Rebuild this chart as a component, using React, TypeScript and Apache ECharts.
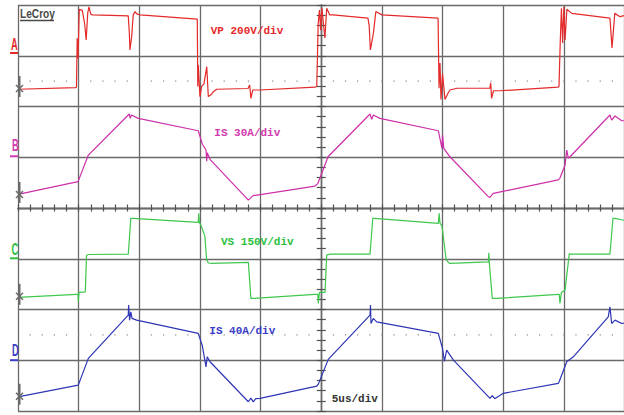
import React, { useEffect, useRef } from "react";
import * as echarts from "echarts";

// ---------- data (time in µs, values in channel units) ----------
const timeRange = [0, 50]; // 5 µs/div x 10 div
const timebaseLabel = "5us/div";
const brandLabel = "LeCroy";

const channelNames = ["A", "B", "C", "D"];
const channelLabels = ["VP 200V/div", "IS 30A/div", "VS 150V/div", "IS 40A/div"];
const channelScales = [200, 30, 150, 40]; // units per division
const channelGround = [0.345, 0.256, 0.25, 0.28]; // ground level, divisions above channel bottom

// Channel A: primary voltage VP (V)
const vpTrace: [number, number][] = [
  [0, -1], [4.75, 5], [4.82, 8], [4.88, 200], [4.95, 120], [5.05, 314], [5.3, 310], [5.5, 255],
  [5.62, 193], [5.75, 300], [5.85, 324], [6.0, 295], [6.15, 292], [9.09, 288], [9.18, 219],
  [9.23, 154], [9.37, 206], [9.5, 292], [9.65, 305], [9.79, 296], [10.06, 292], [14.78, 275],
  [14.82, 10], [14.86, 95], [15.0, -30], [15.14, 10], [15.33, 20], [15.56, 88], [15.69, -30],
  [15.89, -24], [16.1, -11], [16.38, -1], [18.96, 2], [19.1, 16], [19.2, -37], [19.35, -4],
  [19.95, -4], [24.48, 7], [24.63, 10], [24.75, 260], [24.85, 311], [24.95, 232], [25.05, 320],
  [25.3, 201], [25.45, 318], [25.7, 292], [25.97, 292], [28.85, 279], [28.95, 250], [29.05, 154],
  [29.3, 220], [29.5, 305], [30.0, 292], [34.63, 279], [34.71, 3], [34.79, 102], [34.87, -41],
  [35.0, 60], [35.2, -41], [35.45, -17], [35.61, -4], [36.2, 3], [38.9, 3], [38.97, 24],
  [39.04, -37], [39.2, -7], [39.74, -7], [44.52, 7], [44.6, 10], [44.7, 181], [44.8, 318],
  [44.9, 181], [45.0, 324], [45.1, 193], [45.25, 314], [45.65, 298], [48.8, 279], [48.86, 240],
  [48.97, 162], [49.2, 298], [49.63, 285], [50, 290],
];

// Channel B: primary current IS (A)
const isPrimaryTrace: [number, number][] = [
  [0, 0.4], [4.95, 7.9], [5.8, 23.6], [9.09, 47.3], [9.17, 47.9], [9.25, 45.3], [9.35, 47.3],
  [9.92, 45.3], [14.86, 38], [15.2, 30], [15.5, 26.6], [15.56, 20], [15.6, 25], [15.83, 21.1],
  [18.99, -3], [19.37, -0.4], [24.48, 5.3], [24.73, 6.9], [25.56, 22.6], [29.02, 47.9],
  [29.16, 44.7], [29.29, 47.3], [29.84, 45.3], [34.65, 38], [34.95, 27.6], [35.0, 35.5],
  [35.1, 27.6], [35.61, 22.6], [38.77, -1], [38.9, -1.4], [39.18, 1], [44.54, 8.9], [44.68, 10],
  [45.1, 17.7], [45.24, 26.6], [45.37, 21.7], [45.51, 22.6], [48.8, 47.3], [48.94, 44.3],
  [49.22, 46.7], [49.77, 43.9], [50, 43.9],
];

// Channel C: secondary voltage VS (V)
const vsTrace: [number, number][] = [
  [0, -1.8], [4.84, 7.1], [4.95, 7.1], [4.97, -14.8], [5.03, 13], [5.55, 14.8], [5.65, 123],
  [5.8, 125], [9.09, 126], [9.3, 232], [9.5, 232], [14.86, 220], [14.9, 247], [14.95, 220],
  [15.1, 210], [15.4, 180], [15.55, 110], [15.7, 100], [15.97, 98.7], [18.99, 101.7], [19.2, -4.7],
  [19.4, -4.7], [24.48, 7.1], [24.72, 7.1], [24.76, -19.5], [24.85, 13], [25.31, 13], [25.45, 123],
  [25.72, 126], [29.02, 126], [29.25, 232], [29.43, 232], [34.65, 217], [34.72, 247], [34.79, 217],
  [34.95, 210], [35.3, 110], [35.48, 101.7], [35.61, 98.7], [38.77, 103], [38.82, 130],
  [38.85, 103], [39.1, -4.7], [39.46, -4.7], [44.54, 7.1], [44.62, 7.1], [44.68, -19.5],
  [44.8, 13], [45.1, 19.8], [45.45, 128], [45.51, 126], [48.8, 126], [49.05, 232], [49.22, 232],
  [50, 226],
];

// Channel D: secondary current IS (A)
const isSecondaryTrace: [number, number][] = [
  [0, 0], [4.97, 9.2], [5.8, 30.3], [9.09, 64.4], [9.12, 72.3], [9.2, 60.4], [9.3, 67], [9.4, 61.8],
  [9.78, 60.4], [14.86, 50], [15.2, 40], [15.5, 23.6], [15.6, 31.5], [15.83, 27.6], [18.99, -3.9],
  [19.2, -1], [19.4, -4], [19.6, -1.5], [19.95, -1.3], [24.63, 8.4], [24.76, 10], [25.58, 29.5],
  [29.02, 64.4], [29.06, 72.3], [29.1, 57.8], [29.29, 61.8], [29.57, 59.1], [34.65, 50],
  [35.0, 38], [35.15, 28], [35.34, 36.8], [35.9, 28.9], [38.91, -1.3], [39.1, 1], [39.3, -1.5],
  [40.01, 2.7], [44.54, 10.6], [44.62, 12], [45.24, 27.6], [45.78, 31.5], [48.66, 63],
  [48.8, 70.9], [48.94, 57.8], [49.22, 60.4], [49.77, 57.8], [50, 58],
];

const traces = [vpTrace, isPrimaryTrace, vsTrace, isSecondaryTrace];

// ---------- styling / layout ----------
const W = 624;
const H = 415;
const GRID_LEFT = 18;
const GRID_TOP = 5;
const DIV_W = 60.65;
const DIV_H = 50.75;
const CH_H = 2 * DIV_H;
const GRID_COLOR = "#6a6a6a";
const TICK_COLOR = "#505050";
const traceColors = ["#e42a2a", "#cd2fa9", "#3ec84e", "#2f35b5"];
const textColors = ["#e42a2a", "#d23aae", "#2dbf40", "#3a3cc6"];
const letterPos = [
  [11, 44.2, 53],
  [12, 145.8, 156.3],
  [11.5, 249.2, 258.3],
  [12, 350.5, 360.2],
];
const labelPos = [
  [210.7, 30.8],
  [214.3, 132.7],
  [221, 242],
  [209.3, 330.8],
];
const timebasePos = [331.7, 399.2];
const dottedChannels = [0, 3];
const dottedOffset = [0.5, -0.5]; // divisions below channel center (screen direction)

export default function App() {
  const ref = useRef<HTMLDivElement>(null);

  useEffect(() => {
    if (!ref.current) return;
    const chart = echarts.init(ref.current, undefined, { renderer: "svg" });

    const frameW = 10 * DIV_W;
    const frameH = 8 * DIV_H;

    const grids: any[] = [
      { left: GRID_LEFT, top: GRID_TOP, width: frameW, height: frameH, outerBoundsMode: "none" },
    ];
    const xAxes: any[] = [];
    const yAxes: any[] = [];

    const tickCommon = (len: number) => ({
      axisTick: { show: true, length: len, lineStyle: { color: TICK_COLOR, width: 1.2 } },
      minorTick: { show: true, splitNumber: 5, length: len, lineStyle: { color: TICK_COLOR, width: 1.2 } },
      axisLabel: { show: false },
    });

    xAxes.push({
      gridIndex: 0, type: "value", min: -5, max: 5, interval: 1, position: "bottom",
      axisLine: { show: true, onZero: true, onZeroAxisIndex: 0, lineStyle: { color: GRID_COLOR, width: 1.3 } },
      splitLine: { show: true, lineStyle: { color: GRID_COLOR, width: 1.3 } },
      ...tickCommon(3.5),
    });
    xAxes.push({
      gridIndex: 0, type: "value", min: -5, max: 5, interval: 1, position: "top",
      axisLine: { show: true, onZero: true, onZeroAxisIndex: 0, lineStyle: { color: GRID_COLOR, width: 1.3 } },
      splitLine: { show: false },
      ...tickCommon(3.5),
    });
    yAxes.push({
      gridIndex: 0, type: "value", min: -4, max: 4, interval: 1, position: "left",
      axisLine: { show: true, onZero: true, onZeroAxisIndex: 0, lineStyle: { color: GRID_COLOR, width: 1.3 } },
      splitLine: { show: true, lineStyle: { color: GRID_COLOR, width: 1.3 } },
      ...tickCommon(4.5),
    });
    yAxes.push({
      gridIndex: 0, type: "value", min: -4, max: 4, interval: 1, position: "right",
      axisLine: { show: true, onZero: true, onZeroAxisIndex: 0, lineStyle: { color: GRID_COLOR, width: 1.3 } },
      splitLine: { show: false },
      ...tickCommon(4.5),
    });

    const series: any[] = [];
    const graphics: any[] = [];

    channelNames.forEach((name, i) => {
      const top = GRID_TOP + i * CH_H;
      grids.push({ left: GRID_LEFT, top, width: frameW, height: CH_H, outerBoundsMode: "none" });
      const scale = channelScales[i];
      const g = channelGround[i];
      xAxes.push({ gridIndex: i + 1, type: "value", min: timeRange[0], max: timeRange[1], show: false });
      yAxes.push({ gridIndex: i + 1, type: "value", min: -g * scale, max: (2 - g) * scale, show: false });
      series.push({
        name: channelLabels[i],
        type: "line",
        xAxisIndex: i + 2,
        yAxisIndex: i + 2,
        data: traces[i],
        showSymbol: false,
        symbol: "none",
        clip: false,
        z: 5,
        lineStyle: { color: traceColors[i], width: 1.2 },
      });

      // channel letter with underline
      const [lx, ly, uy] = letterPos[i];
      graphics.push({
        type: "text", x: lx, y: ly, scaleX: 0.55, z: 10,
        style: {
          text: name, x: 0, y: 0, fill: textColors[i],
          font: 'bold 17px "Liberation Sans"',
          textAlign: "left", textVerticalAlign: "middle", align: "left", verticalAlign: "middle",
        },
      });
      graphics.push({
        type: "line", z: 10,
        shape: { x1: 10, y1: uy, x2: GRID_LEFT, y2: uy },
        style: { stroke: textColors[i], lineWidth: 2 },
      });

      // channel scale label
      const [tx, ty] = labelPos[i];
      graphics.push({
        type: "text", x: tx, y: ty, z: 10,
        style: {
          text: channelLabels[i], x: 0, y: 0, fill: textColors[i],
          font: 'bold 11px "Liberation Mono"',
          textAlign: "left", textVerticalAlign: "middle", align: "left", verticalAlign: "middle",
        },
      });

      // ground marker
      const gy = top + (2 - g) * DIV_H;
      graphics.push({
        type: "line", z: 10,
        shape: { x1: 19.5, y1: gy - 13, x2: 19.5, y2: gy + 8 },
        style: { stroke: "#6a6a6a", lineWidth: 2 },
      });
      graphics.push({
        type: "polyline", z: 10,
        shape: { points: [[16, gy - 4], [23, gy + 3]] },
        style: { stroke: "#6a6a6a", lineWidth: 1.5, fill: null },
      });
      graphics.push({
        type: "polyline", z: 10,
        shape: { points: [[16, gy + 3], [23, gy - 4]] },
        style: { stroke: "#6a6a6a", lineWidth: 1.5, fill: null },
      });
    });

    // dotted level lines
    dottedChannels.forEach((ci, k) => {
      const y = GRID_TOP + ci * CH_H + DIV_H + dottedOffset[k] * DIV_H;
      const minor = DIV_W / 5;
      graphics.push({
        type: "line", z: 4,
        shape: { x1: GRID_LEFT + minor - 0.6, y1: y, x2: W, y2: y },
        style: { stroke: "#8a8a8a", lineWidth: 1.2, lineDash: [1.2, minor - 1.2] },
      });
    });

    // brand
    graphics.push({
      type: "text", x: 20, y: 13.3, scaleX: 0.78, z: 10,
      style: {
        text: brandLabel, x: 0, y: 0, fill: "#4a4a4a",
        font: 'bold 13px "Liberation Sans"',
        textAlign: "left", textVerticalAlign: "middle", align: "left", verticalAlign: "middle",
      },
    });
    graphics.push({
      type: "line", z: 10,
      shape: { x1: 20, y1: 20.5, x2: 54, y2: 20.5 },
      style: { stroke: "#4a4a4a", lineWidth: 1.5 },
    });

    // timebase
    graphics.push({
      type: "text", x: timebasePos[0], y: timebasePos[1], z: 10,
      style: {
        text: timebaseLabel, x: 0, y: 0, fill: "#333333",
        font: 'bold 11px "Liberation Mono"',
        textAlign: "left", textVerticalAlign: "middle", align: "left", verticalAlign: "middle",
      },
    });

    chart.setOption({
      animation: false,
      backgroundColor: "#ffffff",
      grid: grids,
      xAxis: xAxes,
      yAxis: yAxes,
      series,
      graphic: graphics,
    });

    return () => chart.dispose();
  }, []);

  return (
    <div
      ref={ref}
      style={{ position: "absolute", left: 0, top: 0, width: W, height: H, background: "#fff" }}
    />
  );
}
